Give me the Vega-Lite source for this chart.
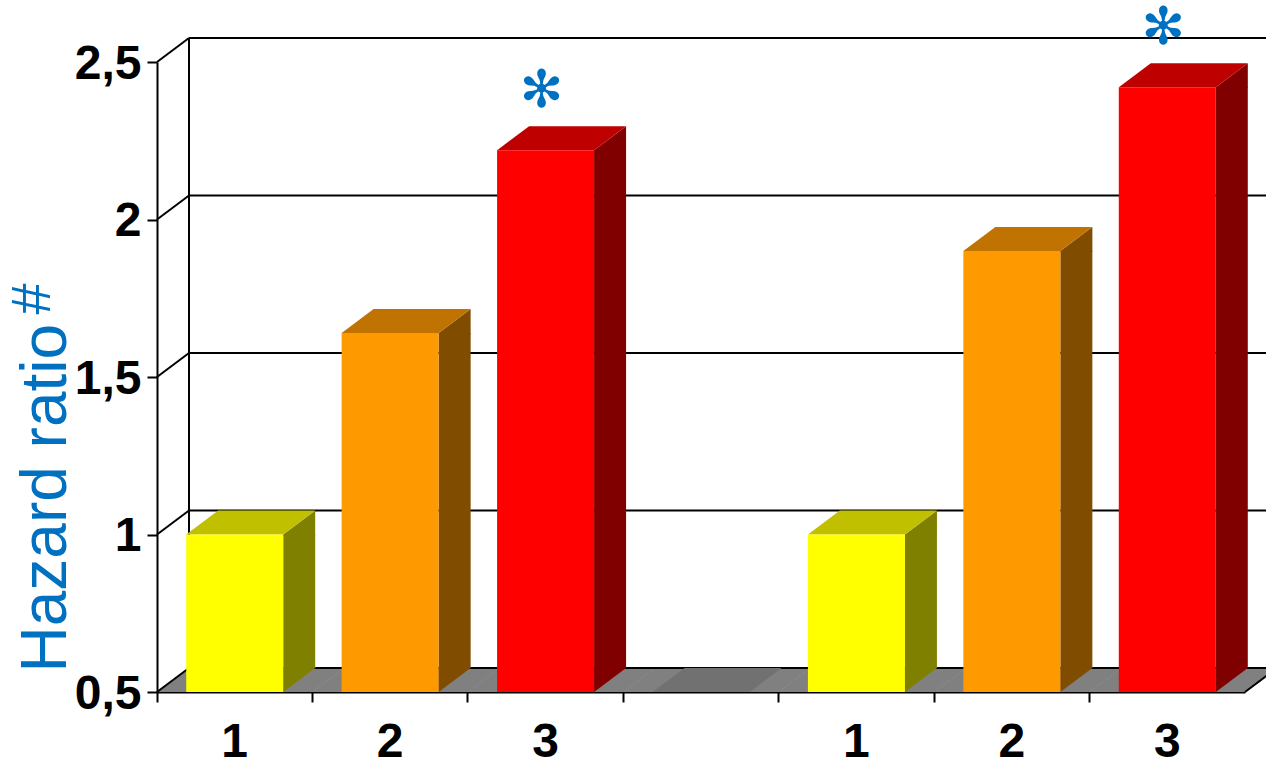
{
  "$schema": "https://vega.github.io/schema/vega-lite/v6.json",
  "width": 1088,
  "height": 630,
  "autosize": {"type": "none"},
  "padding": {"left": 157, "top": 62, "right": 21, "bottom": 71},
  "background": "white",
  "config": {
    "view": {"stroke": null},
    "font": "Liberation Sans"
  },
  "datasets": {
    "hr": [
      {"slot": "a1", "level": "1", "hr": 1.0, "star": false},
      {"slot": "a2", "level": "2", "hr": 1.64, "star": false},
      {"slot": "a3", "level": "3", "hr": 2.22, "star": true},
      {"slot": "gap", "level": "0", "hr": 0.5, "star": false},
      {"slot": "b1", "level": "1", "hr": 1.0, "star": false},
      {"slot": "b2", "level": "2", "hr": 1.9, "star": false},
      {"slot": "b3", "level": "3", "hr": 2.42, "star": true}
    ],
    "ticks": [{"t": 0.5}, {"t": 1}, {"t": 1.5}, {"t": 2}, {"t": 2.5}],
    "one": [{}]
  },
  "data": {"name": "hr"},
  "layer": [
    {
      "description": "grey floor, one slanted segment per category",
      "mark": {"type": "point", "shape": "M-78,0L78,0L110,-24L-46,-24Z", "size": 4, "filled": true, "opacity": 1, "color": "#808080", "strokeWidth": 0},
      "encoding": {
        "x": {
          "field": "slot", "type": "nominal", "title": null,
          "scale": {"type": "band", "domain": ["a1", "a2", "a3", "gap", "b1", "b2", "b3"], "paddingInner": 0, "paddingOuter": 0},
          "axis": {
            "domainColor": "black", "domainWidth": 2,
            "tickColor": "black", "tickWidth": 2, "tickSize": 10,
            "bandPosition": 0,
            "labelFont": "Liberation Sans", "labelFontSize": 48, "labelFontWeight": "bold", "labelColor": "black",
            "labelPadding": 16, "labelAngle": 0,
            "labelExpr": "datum.value == 'gap' ? '' : substring(datum.value, 1)",
            "grid": false
          }
        },
        "y": {"datum": 0.5, "type": "quantitative", "scale": {"domain": [0.5, 2.5], "zero": false, "nice": false}, "axis": null}
      }
    },
    {
      "description": "gridlines on the back wall",
      "data": {"name": "ticks"},
      "mark": {"type": "rule", "color": "black", "strokeWidth": 2, "xOffset": 32, "x2Offset": 32, "yOffset": -24},
      "encoding": {
        "x": {"datum": "a1", "bandPosition": 0, "type": "nominal", "title": null, "scale": {"type": "band"}},
        "x2": {"datum": "b3", "bandPosition": 1},
        "y": {
          "field": "t", "type": "quantitative", "scale": {"domain": [0.5, 2.5], "zero": false, "nice": false},
          "axis": {
            "orient": "left", "title": "#", "labels": false, "ticks": false, "domain": false, "grid": false,
            "titleFont": "Liberation Sans", "titleFontSize": 56, "titleFontWeight": "normal", "titleColor": "#0070C0",
            "titleAngle": -90, "titleAlign": "left", "titleBaseline": "alphabetic",
            "titleX": -108, "titleY": 252
          }
        }
      }
    },
    {
      "description": "side-wall lines joining the front axis to the back wall",
      "data": {"name": "ticks"},
      "mark": {"type": "rule", "color": "black", "strokeWidth": 2, "x2Offset": 32, "y2Offset": -24},
      "encoding": {
        "x": {"datum": "a1", "bandPosition": 0, "type": "nominal", "title": null, "scale": {"type": "band"}},
        "x2": {"datum": "a1", "bandPosition": 0},
        "y": {"field": "t", "type": "quantitative", "scale": {"domain": [0.5, 2.5], "zero": false, "nice": false}, "axis": null},
        "y2": {"field": "t"}
      }
    },
    {
      "description": "back wall left edge",
      "data": {"name": "one"},
      "mark": {"type": "rule", "color": "black", "strokeWidth": 2, "xOffset": 32, "x2Offset": 32, "yOffset": -24, "y2Offset": -24},
      "encoding": {
        "x": {"datum": "a1", "bandPosition": 0, "type": "nominal", "title": null, "scale": {"type": "band"}},
        "y": {"datum": 0.5, "type": "quantitative", "scale": {"domain": [0.5, 2.5], "zero": false, "nice": false}, "axis": null},
        "y2": {"datum": 2.5}
      }
    },
    {
      "description": "floor right edge",
      "data": {"name": "one"},
      "mark": {"type": "rule", "color": "black", "strokeWidth": 2, "x2Offset": 32, "y2Offset": -24},
      "encoding": {
        "x": {"datum": "b3", "bandPosition": 1, "type": "nominal", "title": null, "scale": {"type": "band"}},
        "x2": {"datum": "b3", "bandPosition": 1},
        "y": {"datum": 0.5, "type": "quantitative", "scale": {"domain": [0.5, 2.5], "zero": false, "nice": false}, "axis": null},
        "y2": {"datum": 0.5}
      }
    },
    {
      "description": "lower slanted corner of each bar's side face",
      "transform": [{"filter": "datum.level != '0'"}],
      "mark": {"type": "point", "shape": "M48.5,-25L48.5,0L80.5,-24L80.5,-25Z", "size": 4, "filled": true, "opacity": 1, "strokeWidth": 0},
      "encoding": {
        "x": {"field": "slot", "type": "nominal", "title": null, "scale": {"type": "band"}},
        "y": {"datum": 0.5, "type": "quantitative", "scale": {"domain": [0.5, 2.5], "zero": false, "nice": false}, "axis": null},
        "color": {"field": "level", "type": "nominal", "legend": null, "scale": {"domain": ["1", "2", "3", "0"], "range": ["#808000", "#804C00", "#800000", "#555555"]}}
      }
    },
    {
      "description": "side face body",
      "transform": [{"filter": "datum.level != '0'"}],
      "mark": {"type": "bar", "width": 32, "xOffset": 64.5, "y2Offset": -24},
      "encoding": {
        "x": {"field": "slot", "type": "nominal", "title": null, "scale": {"type": "band"}},
        "y": {"field": "hr", "type": "quantitative", "scale": {"domain": [0.5, 2.5], "zero": false, "nice": false}, "axis": null},
        "y2": {"datum": 0.5},
        "color": {"field": "level", "type": "nominal", "legend": null, "scale": {"domain": ["1", "2", "3", "0"], "range": ["#808000", "#804C00", "#800000", "#555555"]}}
      }
    },
    {
      "description": "upper slanted corner of each bar's side face",
      "transform": [{"filter": "datum.level != '0'"}],
      "mark": {"type": "point", "shape": "M48.5,1L48.5,0L80.5,-24L80.5,1Z", "size": 4, "filled": true, "opacity": 1, "strokeWidth": 0},
      "encoding": {
        "x": {"field": "slot", "type": "nominal", "title": null, "scale": {"type": "band"}},
        "y": {"field": "hr", "type": "quantitative", "scale": {"domain": [0.5, 2.5], "zero": false, "nice": false}, "axis": null},
        "color": {"field": "level", "type": "nominal", "legend": null, "scale": {"domain": ["1", "2", "3", "0"], "range": ["#808000", "#804C00", "#800000", "#555555"]}}
      }
    },
    {
      "description": "top face of each bar",
      "mark": {"type": "point", "shape": "M-48.5,0L48.5,0L80.5,-24L-16.5,-24Z", "size": 4, "filled": true, "opacity": 1, "strokeWidth": 0},
      "encoding": {
        "x": {"field": "slot", "type": "nominal", "title": null, "scale": {"type": "band"}},
        "y": {"field": "hr", "type": "quantitative", "scale": {"domain": [0.5, 2.5], "zero": false, "nice": false}, "axis": null},
        "color": {"field": "level", "type": "nominal", "legend": null, "scale": {"domain": ["1", "2", "3", "0"], "range": ["#C0C000", "#C07300", "#BF0000", "#717171"]}}
      }
    },
    {
      "description": "front face of each bar",
      "transform": [{"filter": "datum.level != '0'"}],
      "mark": {"type": "bar", "width": 97},
      "encoding": {
        "x": {"field": "slot", "type": "nominal", "title": null, "scale": {"type": "band"}},
        "y": {
          "field": "hr", "type": "quantitative", "scale": {"domain": [0.5, 2.5], "zero": false, "nice": false},
          "axis": {
            "orient": "left", "title": "Hazard ratio", "values": [0.5, 1, 1.5, 2, 2.5],
            "labelExpr": "replace(toString(datum.value), '.', ',')",
            "domainColor": "black", "domainWidth": 2,
            "tickColor": "black", "tickWidth": 2, "tickSize": 10,
            "labelFont": "Liberation Sans", "labelFontSize": 48, "labelFontWeight": "bold", "labelColor": "black",
            "labelPadding": 6, "labelOffset": 2, "grid": false,
            "titleFont": "Liberation Sans", "titleFontSize": 64, "titleFontWeight": "normal", "titleColor": "#0070C0",
            "titleAngle": -90, "titleAlign": "left", "titleBaseline": "alphabetic",
            "titleX": -92, "titleY": 610
          }
        },
        "y2": {"datum": 0.5},
        "color": {"field": "level", "type": "nominal", "legend": null, "scale": {"domain": ["1", "2", "3", "0"], "range": ["#FFFF00", "#FF9900", "#FF0000", "#717171"]}}
      }
    },
    {
      "description": "significance marks above the highest bars",
      "transform": [{"filter": "datum.star"}],
      "mark": {"type": "text", "text": "✻", "font": "DejaVu Sans", "fontSize": 52, "color": "#0070C0", "baseline": "middle", "align": "center", "yOffset": -59, "xOffset": -4},
      "encoding": {
        "x": {"field": "slot", "type": "nominal", "title": null, "scale": {"type": "band"}},
        "y": {"field": "hr", "type": "quantitative", "scale": {"domain": [0.5, 2.5], "zero": false, "nice": false}, "axis": null}
      }
    }
  ],
  "resolve": {"scale": {"color": "independent"}, "axis": {"y": "independent"}}
}
